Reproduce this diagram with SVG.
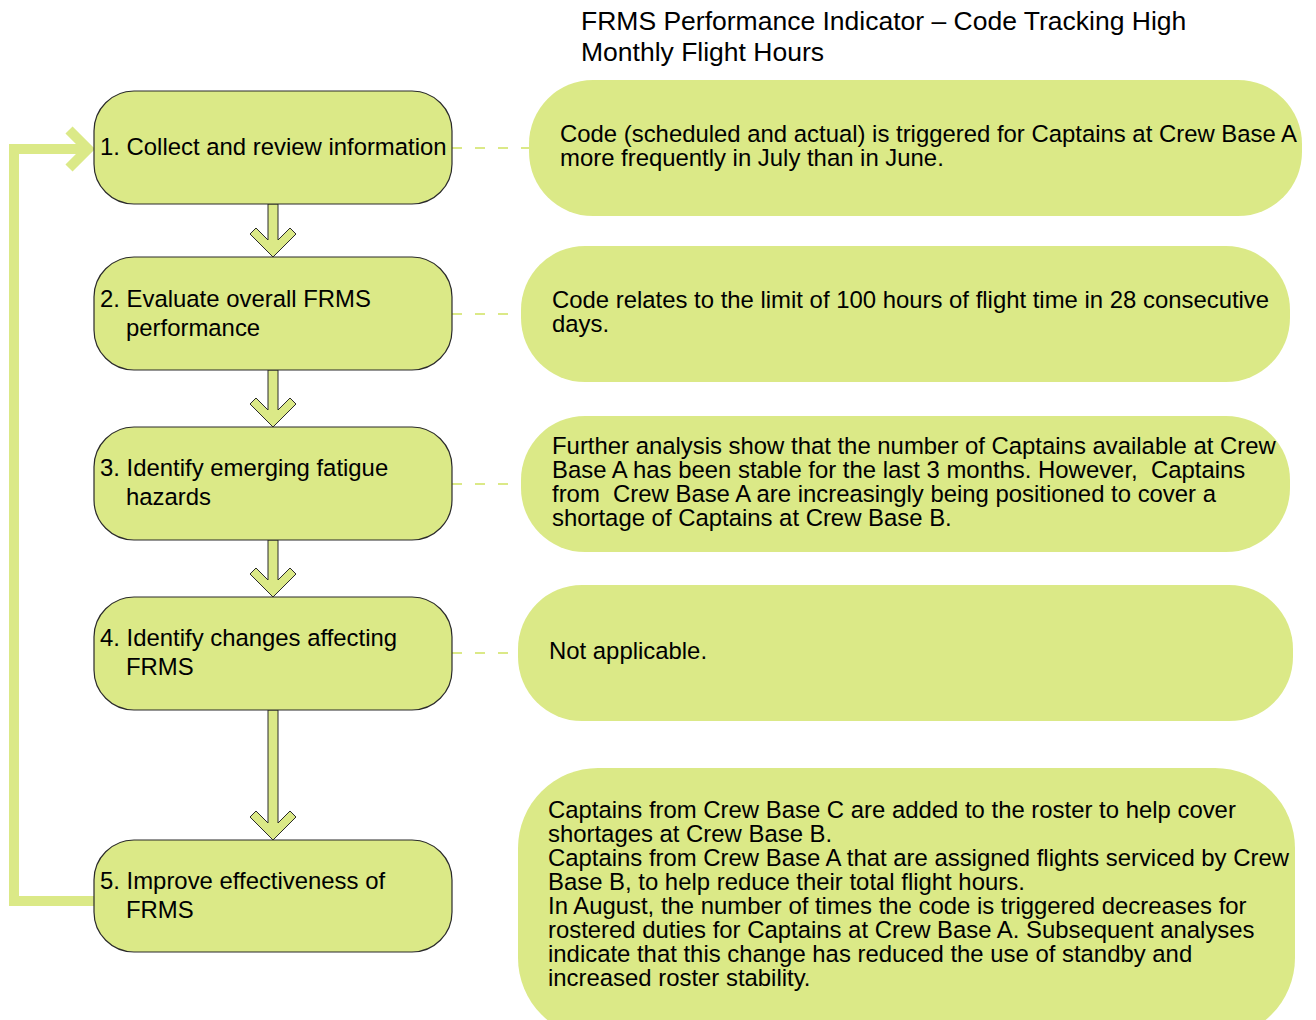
<svg xmlns="http://www.w3.org/2000/svg" width="1316" height="1020" viewBox="0 0 1316 1020">
  <style>
    .step { fill: #dbe987; stroke: #2a2a2a; stroke-width: 1.2; }
    .note { fill: #dbe987; stroke: none; }
    .arrow { fill: #dbe987; stroke: #2a2a2a; stroke-width: 1; stroke-linejoin: miter; }
    .link { stroke: #dbe987; stroke-width: 2; stroke-dasharray: 10 13; fill: none; }
    .loop { stroke: #dbe987; stroke-width: 10; fill: none; }
    text { font-family: "Liberation Sans", Arial, sans-serif; fill: #000; }
    .st { font-size: 23.9px; }
    .nt { font-size: 23.9px; }
    .title { font-size: 26.5px; }
  </style>

  <!-- title -->
  <g id="title">
    <text class="title" x="581" y="30">FRMS Performance Indicator – Code Tracking High</text>
    <text class="title" x="581" y="61">Monthly Flight Hours</text>
  </g>

  <!-- connectors -->
  <g id="connectors">
    <!-- dashed links from steps to notes -->
    <line class="link" x1="452" y1="148" x2="530" y2="148"/>
    <line class="link" x1="452" y1="314" x2="522" y2="314"/>
    <line class="link" x1="452" y1="484" x2="522" y2="484"/>
    <line class="link" x1="452" y1="653" x2="519" y2="653"/>
    <!-- feedback loop from step 5 back to step 1 -->
    <polyline class="loop" points="94,901 14,901 14,149 84,149"/>
    <polyline class="loop" stroke-width="8" points="69,130 88,149 69,168"/>
    <!-- block arrows between steps -->
    <polygon class="arrow" points="268,204 278,204 278,240 290,228 296,234 273,257 250,234 256,228 268,240"/>
    <polygon class="arrow" points="268,370 278,370 278,410 290,398 296,404 273,427 250,404 256,398 268,410"/>
    <polygon class="arrow" points="268,540 278,540 278,580 290,568 296,574 273,597 250,574 256,568 268,580"/>
    <polygon class="arrow" points="268,710 278,710 278,823 290,811 296,817 273,840 250,817 256,811 268,823"/>
  </g>

  <!-- process steps -->
  <g id="step1">
    <rect class="step" x="94" y="91" width="358" height="113" rx="40" ry="40"/>
    <text class="st" x="100" y="155">1. Collect and review information</text>
  </g>
  <g id="step2">
    <rect class="step" x="94" y="257" width="358" height="113" rx="40" ry="40"/>
    <text class="st" x="100" y="307">2. Evaluate overall FRMS</text>
    <text class="st" x="126" y="336">performance</text>
  </g>
  <g id="step3">
    <rect class="step" x="94" y="427" width="358" height="113" rx="40" ry="40"/>
    <text class="st" x="100" y="476">3. Identify emerging fatigue</text>
    <text class="st" x="126" y="505">hazards</text>
  </g>
  <g id="step4">
    <rect class="step" x="94" y="597" width="358" height="113" rx="40" ry="40"/>
    <text class="st" x="100" y="646">4. Identify changes affecting</text>
    <text class="st" x="126" y="675">FRMS</text>
  </g>
  <g id="step5">
    <rect class="step" x="94" y="840" width="358" height="112" rx="40" ry="40"/>
    <text class="st" x="100" y="889">5. Improve effectiveness of</text>
    <text class="st" x="126" y="918">FRMS</text>
  </g>

  <!-- notes -->
  <g id="note1">
    <rect class="note" x="529" y="80" width="773" height="136" rx="64" ry="64"/>
    <text class="nt" x="560" y="142">Code (scheduled and actual) is triggered for Captains at Crew Base A</text>
    <text class="nt" x="560" y="166">more frequently in July than in June.</text>
  </g>
  <g id="note2">
    <rect class="note" x="521" y="246" width="769" height="136" rx="64" ry="64"/>
    <text class="nt" x="552" y="308">Code relates to the limit of 100 hours of flight time in 28 consecutive</text>
    <text class="nt" x="552" y="332">days.</text>
  </g>
  <g id="note3">
    <rect class="note" x="521" y="416" width="769" height="136" rx="64" ry="64"/>
    <text class="nt" x="552" y="454">Further analysis show that the number of Captains available at Crew</text>
    <text class="nt" x="552" y="478" xml:space="preserve">Base A has been stable for the last 3 months. However,  Captains</text>
    <text class="nt" x="552" y="502" xml:space="preserve">from  Crew Base A are increasingly being positioned to cover a</text>
    <text class="nt" x="552" y="526">shortage of Captains at Crew Base B.</text>
  </g>
  <g id="note4">
    <rect class="note" x="518" y="585" width="775" height="136" rx="64" ry="64"/>
    <text class="nt" x="549" y="659">Not applicable.</text>
  </g>
  <g id="note5">
    <rect class="note" x="518" y="768" width="777" height="270" rx="80" ry="80"/>
    <text class="nt" x="548" y="818">Captains from Crew Base C are added to the roster to help cover</text>
    <text class="nt" x="548" y="842">shortages at Crew Base B.</text>
    <text class="nt" x="548" y="866">Captains from Crew Base A that are assigned flights serviced by Crew</text>
    <text class="nt" x="548" y="890">Base B, to help reduce their total flight hours.</text>
    <text class="nt" x="548" y="914">In August, the number of times the code is triggered decreases for</text>
    <text class="nt" x="548" y="938">rostered duties for Captains at Crew Base A. Subsequent analyses</text>
    <text class="nt" x="548" y="962">indicate that this change has reduced the use of standby and</text>
    <text class="nt" x="548" y="986">increased roster stability.</text>
  </g>
</svg>
